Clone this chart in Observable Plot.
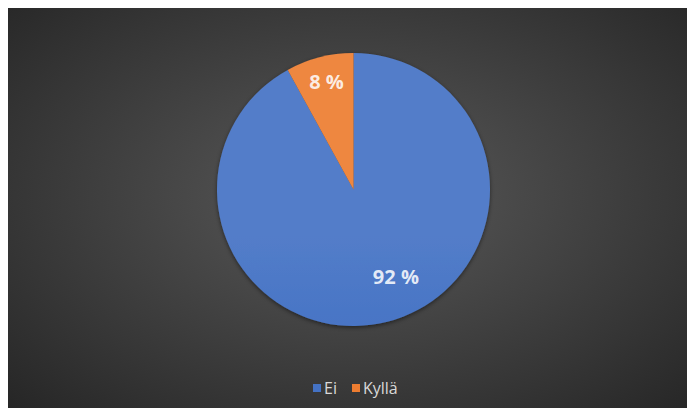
<!DOCTYPE html>
<html>
<head>
<meta charset="utf-8">
<script src="https://cdn.jsdelivr.net/npm/d3@7"></script>
<script src="https://cdn.jsdelivr.net/npm/@observablehq/plot@0.6"></script>
<style>
  html, body { margin: 0; padding: 0; background: #ffffff; }
  #frame {
    position: absolute; left: 8px; top: 8px; width: 679px; height: 400px;
    background: radial-gradient(ellipse farthest-corner at 51% 47%, #5a5a5a 0%, #262626 100%);
    overflow: hidden;
  }
  #chart { position: absolute; left: 0; top: 0; }
  #chart svg { background: transparent !important; }
  #legend { position: absolute; left: 305px; top: 370px; }
  #legend > div { min-height: 0 !important; margin: 0 !important; font-size: 16px !important; font-family: "Open Sans", sans-serif !important; color: #d9d9d9 !important; }
  #legend span { margin-right: 15px !important; line-height: 20px; font-size: 16px !important; }
  #legend span svg { margin-right: 3px !important; }
</style>
</head>
<body>
<div id="frame">
  <div id="chart"></div>
  <div id="legend"></div>
</div>
<script>
// ---- data ----
const categories = ["Ei", "Kyllä"];
const shares = [92, 8];
const colors = ["#4472C4", "#ED7D31"];
const labelTexts = ["92 %", "8 %"];

// ---- layout (not data): label placement relative to slice ----
const labelLayout = { "Ei": { turn: -11.2, radius: 0.71 }, "Kyllä": { turn: 0, radius: 0.81 } };

const table = categories.map((c, i) => ({ category: c, share: shares[i], label: labelTexts[i] }));
const pie = d3.pie().value(d => d.share).sort(null);
const arcs = pie(table);

const labels = arcs.map(a => {
  const L = labelLayout[a.data.category];
  const ang = (a.startAngle + a.endAngle) / 2 + L.turn * Math.PI / 180;
  return { category: a.data.category, text: a.data.label, x: L.radius * Math.sin(ang), y: L.radius * Math.cos(ang) };
});

function pieMark(index, scales, values, dimensions, context) {
  const cx = scales.x(0), cy = scales.y(0), R = scales.x(1) - scales.x(0);
  const col = c => (scales.color ? scales.color(c) : colors[categories.indexOf(c)]);
  const g = d3.create("svg:g");
  const defs = g.append("defs");
  const f = defs.append("filter").attr("id", "pieShadow").attr("x", "-20%").attr("y", "-20%").attr("width", "140%").attr("height", "140%");
  f.append("feDropShadow").attr("dx", 0).attr("dy", 1.5).attr("stdDeviation", 2).attr("flood-color", "#000").attr("flood-opacity", 0.5);
  arcs.forEach((a, i) => {
    const base = col(a.data.category);
    const lg = defs.append("linearGradient").attr("id", "sliceGrad" + i)
      .attr("gradientUnits", "userSpaceOnUse").attr("x1", 0).attr("y1", cy - R).attr("x2", 0).attr("y2", cy + R);
    lg.append("stop").attr("offset", "0%").attr("stop-color", d3.interpolateRgb(base, "#ffffff")(0.08));
    lg.append("stop").attr("offset", "45%").attr("stop-color", base);
    lg.append("stop").attr("offset", "100%").attr("stop-color", d3.interpolateRgb(base, "#000000")(0.07));
  });
  const arcGen = d3.arc().innerRadius(0).outerRadius(R);
  g.append("g").attr("filter", "url(#pieShadow)")
    .attr("transform", `translate(${cx},${cy})`)
    .selectAll("path").data(arcs).join("path")
    .attr("d", arcGen)
    .attr("fill", (d, i) => `url(#sliceGrad${i})`);
  return g.node();
}

const chart = Plot.plot({
  width: 679,
  height: 400,
  margin: 0,
  style: { background: "transparent", fontFamily: "Open Sans" },
  x: { domain: [-1, 1], range: [209, 482], axis: null },
  y: { domain: [-1, 1], range: [318, 45], axis: null },
  color: { domain: categories, range: colors },
  marks: [
    pieMark,
    Plot.text(labels, {
      x: "x", y: "y", text: "text",
      fill: "#ffffff", fillOpacity: 0.85,
      fontSize: 20, fontWeight: "bold", fontFamily: "Open Sans",
      textAnchor: "middle", lineAnchor: "middle"
    })
  ]
});
document.getElementById("chart").appendChild(chart);

const legend = Plot.legend({
  color: { domain: categories, range: colors },
  swatchSize: 8,
  style: { fontFamily: "Open Sans", fontSize: "16px", color: "#d9d9d9", background: "transparent" }
});
document.getElementById("legend").appendChild(legend);
</script>
</body>
</html>
